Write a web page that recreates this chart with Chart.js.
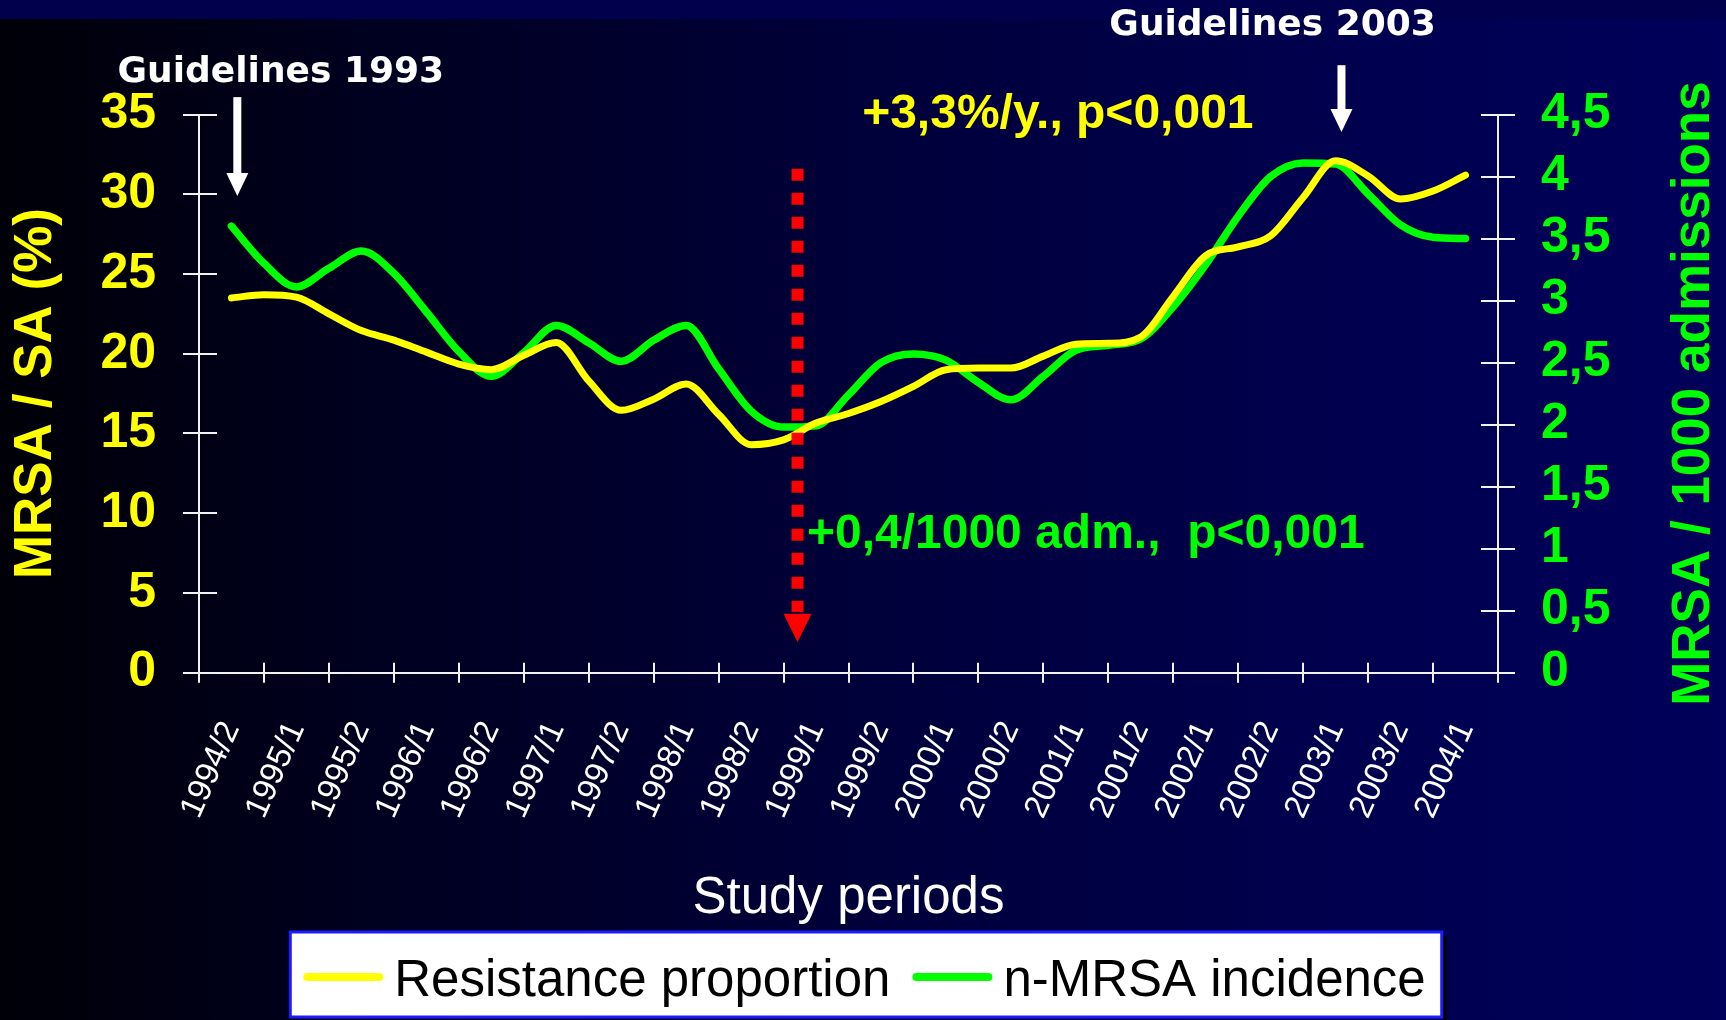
<!DOCTYPE html>
<html><head><meta charset="utf-8">
<script src="https://cdn.jsdelivr.net/npm/chart.js@4.4.0/dist/chart.umd.min.js"></script>
<style>
html,body{margin:0;padding:0;width:1726px;height:1020px;overflow:hidden;}
body{background:linear-gradient(to right,#000008 0%,#00001e 20%,#00003a 50%,#000050 80%,#00005a 100%);}
#strip{position:absolute;left:0;top:0;width:1726px;height:19px;background:#00004c;}
#wrap{position:absolute;left:0;top:0;width:1726px;height:1020px;}
</style></head><body>
<div id="strip"></div>
<div id="wrap"><canvas id="c" width="1726" height="1020"></canvas></div>
<script>
// ---------- DATA ----------
const periodLabels = ['1994/2','1995/1','1995/2','1996/1','1996/2','1997/1','1997/2','1998/1','1998/2','1999/1',
  '1999/2','2000/1','2000/2','2001/1','2001/2','2002/1','2002/2','2003/1','2003/2','2004/1'];
// sample positions (in study-period index units, 0 = 1994/2)
const samplePositions = [0,0.5,1,1.5,2,2.5,3,3.5,4,4.5,5,5.5,6,6.5,7,7.5,8,8.5,9,9.5,
  10,10.5,11,11.5,12,12.5,13,13.5,14,14.5,15,15.5,16,16.5,17,17.5,18,18.5,19];
// Resistance proportion, MRSA / SA (%)
const resistanceProportion = [23.5,23.7,23.55,22.5,21.45,20.85,20.1,19.35,19.0,19.9,20.7,18.3,16.45,17.15,18.1,16.2,14.3,14.6,15.65,16.25,
  17.0,17.95,19.0,19.1,19.1,19.85,20.6,20.65,21.05,23.6,26.15,26.7,27.4,29.8,32.1,31.15,29.7,30.2,31.2];
// n-MRSA incidence, MRSA / 1000 admissions
const mrsaIncidence = [3.60,3.30,3.11,3.26,3.40,3.22,2.91,2.59,2.39,2.58,2.80,2.66,2.51,2.68,2.80,2.45,2.11,1.98,1.99,2.24,
  2.50,2.57,2.52,2.34,2.20,2.39,2.60,2.64,2.69,2.95,3.29,3.68,4.00,4.11,4.10,3.86,3.61,3.51,3.50];
const seriesNames = ['Resistance proportion','n-MRSA incidence'];

// ---------- STYLE / LAYOUT ----------
const AXIS = '#f2f2f2';
const YELLOW = '#ffff00', GREEN = '#00ff00';
const SANS = '"Liberation Sans", Arial, sans-serif';
const VERD = '"DejaVu Sans", Verdana, sans-serif';

const overlay = {
  id:'overlay',
  afterDraw(chart){
    const {ctx, chartArea:a, scales:s} = chart;
    const X = v => s.x2.getPixelForValue(v);
    const Y = v => s.y.getPixelForValue(v);
    ctx.save();
    // inner halves of tick marks
    ctx.strokeStyle = AXIS; ctx.lineWidth = 2; ctx.beginPath();
    s.y.ticks.forEach((t,i)=>{const py=Math.round(s.y.getPixelForTick(i)); ctx.moveTo(a.left,py); ctx.lineTo(a.left+18,py);});
    s.y1.ticks.forEach((t,i)=>{const py=Math.round(s.y1.getPixelForTick(i)); ctx.moveTo(a.right-17,py); ctx.lineTo(a.right,py);});
    for(let i=0;i<=periodLabels.length;i++){const px=Math.round(X(i-0.5)); ctx.moveTo(px,a.bottom); ctx.lineTo(px,a.bottom-10);}
    ctx.stroke();

    // red dotted arrow
    const rx = X(8.715);
    ctx.strokeStyle = '#ff0000'; ctx.lineWidth = 12; ctx.setLineDash([12,12]); ctx.lineCap='butt';
    ctx.beginPath(); ctx.moveTo(rx, Y(31.6)); ctx.lineTo(rx, Y(3.81)); ctx.stroke(); ctx.setLineDash([]);
    ctx.fillStyle = '#ff0000'; ctx.beginPath();
    ctx.moveTo(rx-14, Y(3.69)); ctx.lineTo(rx+14, Y(3.69)); ctx.lineTo(rx, Y(1.93)); ctx.closePath(); ctx.fill();

    // white guideline arrows
    const arrow = (xv, topV, tipV) => {
      const x = X(xv), yt = Y(topV), yp = Y(tipV), hl = 23;
      ctx.fillStyle = '#ffffff';
      ctx.fillRect(x-4, yt, 8, (yp-hl)-yt+1);
      ctx.beginPath(); ctx.moveTo(x-11, yp-hl); ctx.lineTo(x+11, yp-hl); ctx.lineTo(x, yp); ctx.closePath(); ctx.fill();
    };
    arrow(0.09, 36.09, 29.89);
    arrow(17.09, 38.09, 33.9);

    ctx.textBaseline = 'middle';
    ctx.fillStyle = '#ffffff'; ctx.textAlign = 'center';
    ctx.font = 'bold 36px ' + VERD;
    ctx.fillText('Guidelines 1993', X(0.76), Y(37.6));
    ctx.fillText('Guidelines 2003', X(16.03), Y(40.6));

    ctx.textAlign = 'left';
    ctx.font = 'bold 48px ' + SANS;
    ctx.fillStyle = YELLOW;
    ctx.fillText('+3,3%/y., p<0,001', X(9.71), Y(35.0));
    ctx.fillStyle = GREEN;
    ctx.fillText('+0,4/1000 adm.,  p<0,001', X(8.86), Y(8.65));

    // right axis title (reads bottom to top)
    ctx.save();
    ctx.translate(a.right + 196, (a.top + a.bottom)/2);
    ctx.rotate(-Math.PI/2);
    ctx.textAlign = 'center'; ctx.fillStyle = GREEN;
    ctx.font = 'bold 53px ' + SANS;
    ctx.fillText('MRSA / 1000 admissions', 0, 0);
    ctx.restore();

    // legend box
    ctx.font = '51px ' + SANS;
    const items = chart.data.datasets.map(d => ({label:d.label, color:d.borderColor, w:ctx.measureText(d.label).width}));
    const lineW = 80, gap1 = 11, gap2 = 22, padL = 13, padR = 16;
    let total = 0; items.forEach((it,i)=>{ total += lineW + gap1 + it.w + (i ? gap2 : 0); });
    const boxW = total + padL + padR, boxL = 866 - boxW/2, boxT = 932, boxH = 85;
    ctx.fillStyle = '#000000'; ctx.fillRect(boxL + boxW, boxT + 4, 5, boxH);
    ctx.fillStyle = '#ffffff'; ctx.fillRect(boxL, boxT, boxW, boxH);
    ctx.strokeStyle = '#1c1cff'; ctx.lineWidth = 3; ctx.strokeRect(boxL, boxT, boxW, boxH);
    let cx = boxL + padL; const ly = 977, ty = 982;
    items.forEach((it,i)=>{
      if (i) cx += gap2;
      ctx.strokeStyle = it.color; ctx.lineWidth = 8; ctx.lineCap = 'round';
      ctx.beginPath(); ctx.moveTo(cx+4, ly); ctx.lineTo(cx+lineW-4, ly); ctx.stroke();
      cx += lineW + gap1;
      ctx.fillStyle = '#000000'; ctx.textAlign = 'left';
      ctx.fillText(it.label, cx, ty);
      cx += it.w;
    });
    ctx.restore();
  }
};

new Chart(document.getElementById('c'), {
  type:'line',
  data:{
    labels: periodLabels,
    datasets:[
      {label:seriesNames[0], data:samplePositions.map((p,i)=>({x:p, y:resistanceProportion[i]})),
       borderColor:YELLOW, backgroundColor:YELLOW, borderWidth:7, pointRadius:0,
       cubicInterpolationMode:'monotone', borderCapStyle:'round', borderJoinStyle:'round', xAxisID:'x2', yAxisID:'y'},
      {label:seriesNames[1], data:samplePositions.map((p,i)=>({x:p, y:mrsaIncidence[i]})),
       borderColor:GREEN, backgroundColor:GREEN, borderWidth:7.5, pointRadius:0,
       cubicInterpolationMode:'monotone', borderCapStyle:'round', borderJoinStyle:'round', xAxisID:'x2', yAxisID:'y1'}
    ]
  },
  options:{
    responsive:false, animation:false, devicePixelRatio:1,
    layout:{padding:{top:114.5, left:0, right:0, bottom:0}},
    plugins:{legend:{display:false}, tooltip:{enabled:false}},
    scales:{
      x:{type:'category', position:'bottom', offset:true,
        grid:{offset:true, drawOnChartArea:false, drawTicks:true, tickLength:10, color:AXIS, lineWidth:2},
        border:{display:true, color:AXIS, width:2},
        ticks:{color:'#ffffff', font:{family:SANS, size:33}, minRotation:66, maxRotation:66, padding:33, autoSkip:false},
        title:{display:true, text:'Study periods', color:'#ffffff', font:{family:SANS, size:51, lineHeight:1.2}, padding:{top:0, bottom:90}},
        afterFit(sc){ sc.height = 347.3; }
      },
      x2:{type:'linear', display:false, min:-0.5, max:19.5},
      y:{position:'left', min:0, max:35,
        ticks:{stepSize:5, color:YELLOW, font:{family:SANS, size:50, weight:'bold', lineHeight:1}, padding:27, autoSkip:false},
        grid:{drawOnChartArea:false, drawTicks:true, tickLength:16, color:AXIS, lineWidth:2},
        border:{display:true, color:AXIS, width:2},
        title:{display:true, text:'MRSA / SA (%)', color:YELLOW, font:{family:SANS, size:53, weight:'bold', lineHeight:1.2}, padding:{top:5, bottom:0}},
        afterFit(sc){ sc.width = 199; }
      },
      y1:{position:'right', min:0, max:4.5,
        ticks:{stepSize:0.5, color:GREEN, font:{family:SANS, size:50, weight:'bold', lineHeight:1}, padding:26, autoSkip:false,
          callback:v => String(v).replace('.', ',')},
        grid:{drawOnChartArea:false, drawTicks:true, tickLength:17, color:AXIS, lineWidth:2},
        border:{display:true, color:AXIS, width:2},
        afterFit(sc){ sc.width = 228; }
      }
    }
  },
  plugins:[overlay]
});
</script>
</body></html>
